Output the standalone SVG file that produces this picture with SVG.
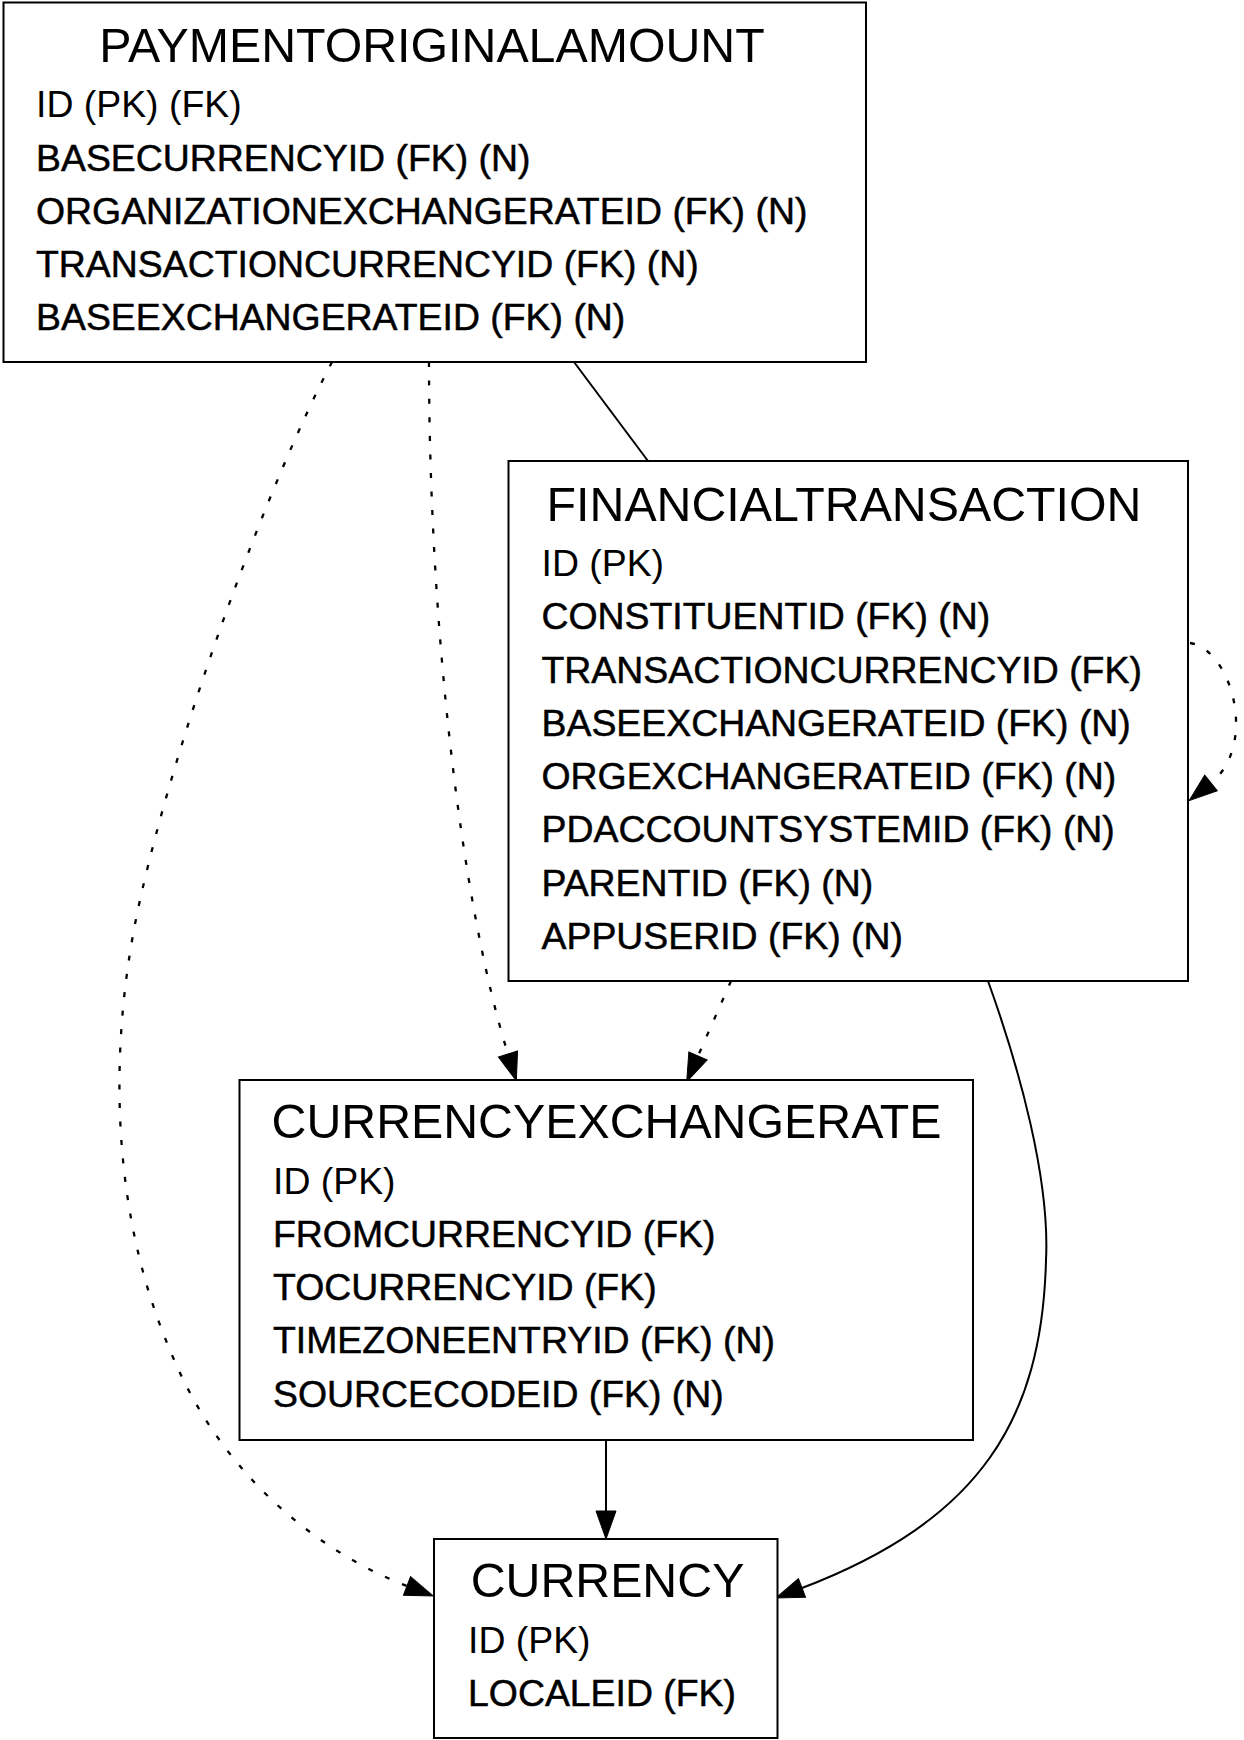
<svg xmlns="http://www.w3.org/2000/svg" width="1244" height="1740" viewBox="0 0 1244 1740">
<style>
.box{fill:#fff;stroke:#000;stroke-width:2}
.title{font-family:"Liberation Sans",Arial,sans-serif;font-size:48.3px;fill:#000;text-anchor:middle}
.pk{font-family:"Liberation Sans",Arial,sans-serif;font-size:37.4px;fill:#000}
.row{font-family:"Liberation Sans",Arial,sans-serif;font-size:37.4px;fill:#000;stroke:#000;stroke-width:0.5}
.edge{fill:none;stroke:#000;stroke-width:2}
.dot{stroke-width:2.3;stroke-dasharray:5,13.5}
</style>
<defs>
<marker id="arr" markerUnits="userSpaceOnUse" markerWidth="30" markerHeight="22" refX="0" refY="10" orient="auto" overflow="visible">
<path d="M0,0 L28,10 L0,20 z" fill="#000" stroke="#000" stroke-width="1"/>
</marker>
</defs>
<rect width="1244" height="1740" fill="#fff"/>
<g id="connectors">
<path class="edge" d="M574,362 L648,461"/>
<path class="edge dot" d="M429,362 C429,620 460,900 508,1054" marker-end="url(#arr)"/>
<path class="edge dot" d="M731,981 L698,1056" marker-end="url(#arr)"/>
<path class="edge dot" d="M332,362 C270,480 180,720 140,900 C108,1044 110,1210 170,1350 C220,1475 320,1553 407,1586" marker-end="url(#arr)"/>
<path class="edge dot" d="M1190,643 C1232,650 1258,745 1211,783" marker-end="url(#arr)"/>
<path class="edge" d="M606,1440 L606,1511" marker-end="url(#arr)"/>
<path class="edge" d="M988,981 C1020,1070 1050,1180 1046,1260 C1042,1420 980,1520 802,1588" marker-end="url(#arr)"/>
</g>
<g id="PAYMENTORIGINALAMOUNT">
<rect class="box" x="3.5" y="2.5" width="862.5" height="359.5"/>
<text class="title" x="432" y="62">PAYMENTORIGINALAMOUNT</text>
<text class="pk" x="36" y="117.3">ID (PK) (FK)</text>
<text class="row" x="36" y="170.5">BASECURRENCYID (FK) (N)</text>
<text class="row" x="36" y="223.8">ORGANIZATIONEXCHANGERATEID (FK) (N)</text>
<text class="row" x="36" y="277">TRANSACTIONCURRENCYID (FK) (N)</text>
<text class="row" x="36" y="330.3">BASEEXCHANGERATEID (FK) (N)</text>
</g>
<g id="FINANCIALTRANSACTION">
<rect class="box" x="508.5" y="461" width="679.5" height="520"/>
<text class="title" x="844" y="520.5">FINANCIALTRANSACTION</text>
<text class="pk" x="541.5" y="576">ID (PK)</text>
<text class="row" x="541.5" y="629.25">CONSTITUENTID (FK) (N)</text>
<text class="row" x="541.5" y="682.5">TRANSACTIONCURRENCYID (FK)</text>
<text class="row" x="541.5" y="735.75">BASEEXCHANGERATEID (FK) (N)</text>
<text class="row" x="541.5" y="789">ORGEXCHANGERATEID (FK) (N)</text>
<text class="row" x="541.5" y="842.25">PDACCOUNTSYSTEMID (FK) (N)</text>
<text class="row" x="541.5" y="895.5">PARENTID (FK) (N)</text>
<text class="row" x="541.5" y="948.75">APPUSERID (FK) (N)</text>
</g>
<g id="CURRENCYEXCHANGERATE">
<rect class="box" x="239.5" y="1080" width="733.5" height="360"/>
<text class="title" x="606.5" y="1137.5">CURRENCYEXCHANGERATE</text>
<text class="pk" x="273" y="1193.5">ID (PK)</text>
<text class="row" x="273" y="1246.75">FROMCURRENCYID (FK)</text>
<text class="row" x="273" y="1300">TOCURRENCYID (FK)</text>
<text class="row" x="273" y="1353.25">TIMEZONEENTRYID (FK) (N)</text>
<text class="row" x="273" y="1406.5">SOURCECODEID (FK) (N)</text>
</g>
<g id="CURRENCY">
<rect class="box" x="434" y="1539" width="343.5" height="199"/>
<text class="title" x="607.5" y="1597">CURRENCY</text>
<text class="pk" x="468" y="1652.7">ID (PK)</text>
<text class="row" x="468" y="1705.9">LOCALEID (FK)</text>
</g>
</svg>
